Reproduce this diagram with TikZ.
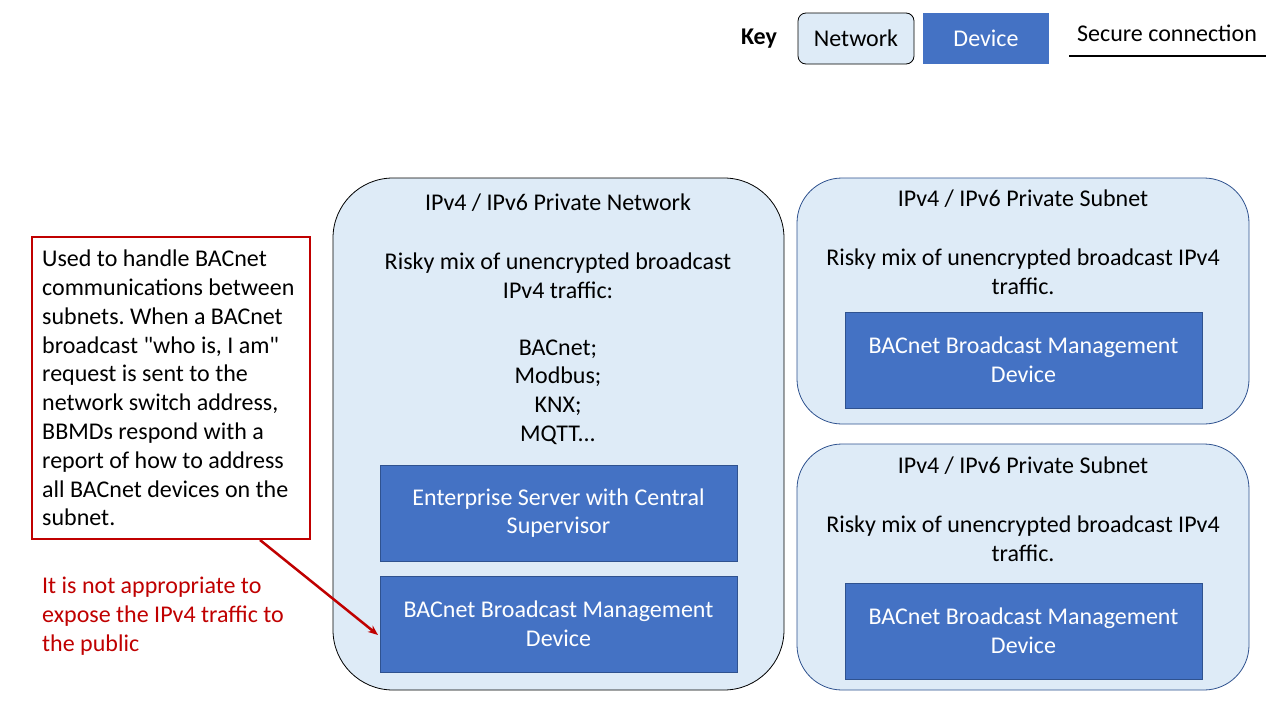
\documentclass[tikz,border=0pt]{standalone}
\usepackage{fontspec}
\setmainfont{Carlito}[Ligatures=TeXOff]
\usetikzlibrary{arrows.meta,calc}
\definecolor{netfill}{HTML}{DEEBF7}
\definecolor{devfill}{HTML}{4472C4}
\definecolor{subedge}{HTML}{2F528F}
\definecolor{warnred}{HTML}{C00000}
\frenchspacing
\tikzset{
  txt/.style={inner sep=0pt, font=\fontsize{24}{28.8}\selectfont, align=center},
  devbox/.style={draw=subedge, line width=0.6pt, fill=devfill, text=white, inner sep=0pt, font=\fontsize{24}{28.8}\selectfont, align=center},
  mainnet/.style={draw=black, line width=0.8pt, fill=netfill, rounded corners=60pt},
  subnet/.style={draw=subedge, line width=0.8pt, fill=netfill, rounded corners=45pt},
}
\begin{document}
\begin{tikzpicture}[x=1pt,y=-1pt]
\useasboundingbox (0,0) rectangle (1280,720);
\fill[white] (0,0) rectangle (1280,720);
% Key
\node[txt, font=\fontsize{24}{28.8}\selectfont\bfseries] (key) at (759,39) {Key};
\draw[draw=black, line width=0.8pt, fill=netfill, rounded corners=8pt] (798,13) rectangle (914,64);
\node[txt] (knet) at (856,38.5) {Network};
\fill[devfill] (923,13) rectangle (1049,64);
\node[txt, text=white] (kdev) at (986,38.5) {Device};
\node[txt] (ksec) at (1167,33) {Secure connection};
\coordinate (ksa) at (1069,56);
\coordinate (ksb) at (1266,56);
\draw[line width=2pt] (ksa) -- (ksb);
% Main network
\draw[mainnet] (333,178) rectangle (784,690);
\node[txt] (mtitle) at (558,203) {IPv4 / IPv6 Private Network};
\node[txt] (mrisk) at (558,276) {Risky mix of unencrypted broadcast\\IPv4 traffic:};
\node[txt] (mproto) at (558,392) {BACnet;\\Modbus;\\KNX;\\MQTT...};
\node[devbox, minimum width=357pt, minimum height=96pt] (ent) at (558.5,513) {Enterprise Server with Central\\Supervisor};
\node[devbox, minimum width=357pt, minimum height=96pt] (bbmd) at (558.5,624) {BACnet Broadcast Management\\Device};
% Subnet top
\draw[subnet] (797,178) rectangle (1249,424);
\node[txt] (s1title) at (1023,199) {IPv4 / IPv6 Private Subnet};
\node[txt] (s1risk) at (1023,271.5) {Risky mix of unencrypted broadcast IPv4\\traffic.};
\node[devbox, minimum width=357pt, minimum height=96pt] (s1bbmd) at (1023.5,360) {BACnet Broadcast Management\\Device};
% Subnet bottom
\draw[subnet] (797,444) rectangle (1249,690);
\node[txt] (s2title) at (1023,466) {IPv4 / IPv6 Private Subnet};
\node[txt] (s2risk) at (1023,538.5) {Risky mix of unencrypted broadcast IPv4\\traffic.};
\node[devbox, minimum width=357pt, minimum height=96pt] (s2bbmd) at (1023.5,631) {BACnet Broadcast Management\\Device};
% Red note
\draw[draw=warnred, line width=2.5pt, fill=white] (32,237) rectangle (310,539);
\node[txt, align=left, anchor=west] (note) at (42,388) {Used to handle BACnet\\communications between\\subnets. When a BACnet\\broadcast "who is, I am"\\request is sent to the\\network switch address,\\BBMDs respond with a\\report of how to address\\all BACnet devices on the\\subnet.};
\node[txt, align=left, anchor=west, text=warnred] (warn) at (42,616) {It is not appropriate to\\expose the IPv4 traffic to\\the public};
\coordinate (arrs) at (260,540);
\coordinate (arre) at (378,635);
\draw[warnred, line width=2.5pt, -{Stealth[length=10pt,width=8pt]}] (arrs) -- (arre);
\end{tikzpicture}
\end{document}
